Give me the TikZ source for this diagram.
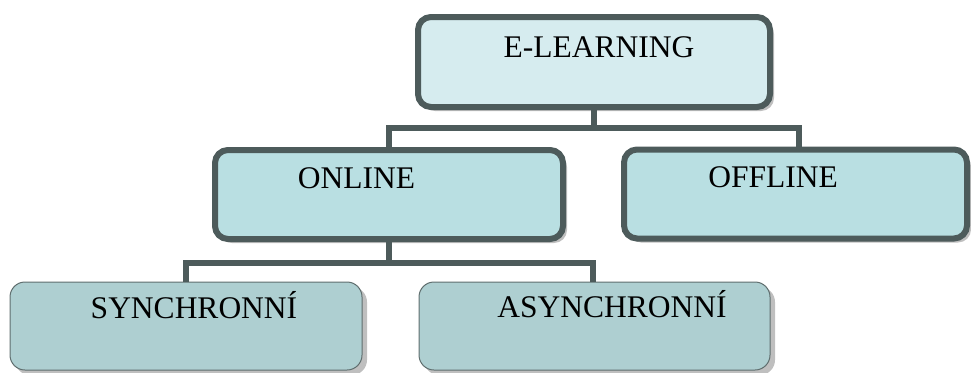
\documentclass[tikz,border=0pt]{standalone}
\usepackage{fontspec}
\setmainfont{Liberation Serif}
\usepackage{xcolor}
\usepackage{tikz}
\usetikzlibrary{shapes,shadows}

\definecolor{boxline}{HTML}{4D5B5B}
\definecolor{thinline}{HTML}{5F6E6E}
\definecolor{rootfill}{HTML}{D6ECEF}
\definecolor{midfill}{HTML}{B9DFE2}
\definecolor{leaffill}{HTML}{AECFD1}

\begin{document}
\begin{tikzpicture}[x=1pt,y=-1pt,
  thickbox/.style={draw=boxline,line width=6pt,rounded corners=13pt,inner sep=0pt,
    drop shadow={shadow xshift=4pt,shadow yshift=-4pt,fill=black!25,opacity=1}},
  thinbox/.style={draw=thinline,line width=1pt,rounded corners=15pt,fill=leaffill,inner sep=0pt,
    drop shadow={shadow xshift=5pt,shadow yshift=-5pt,fill=black!25,opacity=1}},
  boxtext/.style={anchor=base,inner sep=0pt,font=\fontsize{31.5pt}{36pt}\selectfont},
  bus/.style={draw=boxline,line width=6pt}]

\useasboundingbox (0,0) rectangle (971,372);

\node (elearning)	at (594.0,62.0)	[thickbox,fill=rootfill,minimum width=352pt,minimum height=90pt] {};
\node (online)		at (389.0,194.5)	[thickbox,fill=midfill,minimum width=348pt,minimum height=89pt] {};
\node (offline)		at (795.5,194.0)	[thickbox,fill=midfill,minimum width=343pt,minimum height=89pt] {};
\node (synchronni)	at (186.0,326.0)	[thinbox,minimum width=352pt,minimum height=88pt] {};
\node (asynchronni)	at (594.5,326.0)	[thinbox,minimum width=351pt,minimum height=88pt] {};

\node (elearning_label)		at (599.0,57.0)	[boxtext] {E-LEARNING};
\node (online_label)		at (356.5,188.0)	[boxtext] {ONLINE};
\node (offline_label)		at (773.0,187.0)	[boxtext] {OFFLINE};
\node (synchronni_label)	at (194.0,318.0)	[boxtext] {SYNCHRONNÍ};
\node (asynchronni_label)	at (612.0,317.0)	[boxtext] {ASYNCHRONNÍ};

\coordinate (top_bus)		at (594.0,128.0);
\coordinate (bottom_bus)	at (389.0,263.0);
\draw [bus] (elearning.south) -- (top_bus) -| (online.north);
\draw [bus] (top_bus) -| ([xshift=3.5pt]offline.north);
\draw [bus] (online.south) -- (bottom_bus) -| (synchronni.north);
\draw [bus] (bottom_bus) -| ([xshift=-1.5pt]asynchronni.north);

\end{tikzpicture}
\end{document}
